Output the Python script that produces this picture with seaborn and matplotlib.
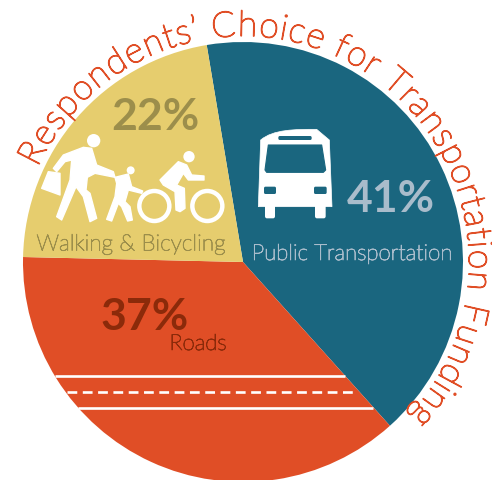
#!/usr/bin/env python3
import matplotlib
matplotlib.use('Agg')
import matplotlib.pyplot as plt
import matplotlib.patheffects as pe
from matplotlib.font_manager import FontProperties
from matplotlib.patches import Circle, Polygon, FancyBboxPatch, PathPatch
from matplotlib.path import Path
from matplotlib.textpath import text_to_path
import numpy as np
import seaborn as sns

sns.set_theme(style='white')
plt.rcParams['font.family'] = ['Lato', 'DejaVu Sans']

# data
categories = ['Public Transportation', 'Roads', 'Walking & Bicycling']
shares = [41, 37, 22]
colores = sns.color_palette(['#1A667F', '#E04E26', '#E6CD6E'])
title = 'Respondents\u2019 Choice for Transportation Funding'

W, H = 492, 480
CX, CY, R = 243, 262, 220


def Y(py):
    return H - py


def z1(pts):
    # coordenadas do zoom da zona amarela
    return [(x / 3, Y(90 + y / 3)) for x, y in pts]


def z2(pts):
    # coordenadas do zoom do autocarro
    return [(240 + x / 3, Y(110 + y / 3)) for x, y in pts]


def rotulo(x, y, s, size, cor):
    # fonte fina engrossada com um traco
    ax.text(x, Y(y), s, fontproperties=FontProperties(family='Lato', weight='light', size=size),
            color=cor, ha='center', va='center_baseline',
            path_effects=[pe.withStroke(linewidth=0.55, foreground=cor)])


fig = plt.figure(figsize=(W / 100, H / 100), dpi=100)
ax = fig.add_axes([0, 0, 1, 1])
ax.pie(shares, colors=colores, startangle=99.5, counterclock=False,
       center=(CX, Y(CY)), radius=R, wedgeprops={'linewidth': 0})
ax.set_xlim(0, W)
ax.set_ylim(0, H)
ax.set_aspect('equal')
ax.axis('off')

# titulo em arco
prop = FontProperties(family='Lato', weight='light', size=25.5)
def largura(s):
    return text_to_path.get_text_width_height_descent(s, prop, False)[0]

total = largura(title)
ini, fim = -65.5, 133.0
raio_txt = R + 6
for i, ch in enumerate(title):
    if ch == ' ':
        continue
    meio = largura(title[:i]) + largura(ch) / 2
    th = ini + (fim - ini) * meio / total
    rad = np.radians(th)
    ax.text(CX + raio_txt * np.sin(rad), Y(CY) + raio_txt * np.cos(rad), ch,
            rotation=-th, rotation_mode='anchor', ha='center', va='baseline',
            fontproperties=prop, color='#E04E26',
            path_effects=[pe.withStroke(linewidth=1.0, foreground='#E04E26')])

# textos das fatias
ax.text(391, Y(195), '41%', fontsize=32, fontweight='bold', color='#A9BCCB', ha='center', va='center_baseline')
rotulo(352, 252, categories[0], 16, '#A9BCCB')
ax.text(144.5, Y(313), '37%', fontsize=32, fontweight='bold', color='#8B2A0A', ha='center', va='center_baseline')
rotulo(198, 342, categories[1], 16, '#8B2A0A')
ax.text(155, Y(113), '22%', fontsize=32, fontweight='bold', color='#9C8E4B', ha='center', va='center_baseline')
rotulo(131, 242, categories[2], 16.3, '#9C8E4B')

# estrada
ax.plot([55, 345], [Y(376), Y(376)], color='white', lw=1.9, solid_capstyle='butt')
ax.plot([67, 353], [Y(392), Y(392)], color='white', lw=1.9, dashes=(3.7, 2.1))
ax.plot([78, 373], [Y(408), Y(408)], color='white', lw=1.9, solid_capstyle='butt')

# pessoas
branco = {'facecolor': 'white', 'edgecolor': 'white', 'linewidth': 1.0, 'joinstyle': 'round'}
adulto = [(190, 195), (250, 172), (275, 175), (290, 225), (340, 245), (345, 262), (285, 250),
          (262, 262), (258, 300), (270, 310), (290, 385), (270, 395), (250, 320), (228, 290),
          (185, 390), (170, 380), (210, 270), (215, 210), (195, 215), (170, 245), (160, 235)]
saco = [(145, 245), (180, 250), (180, 315), (125, 295)]
crianca = [(345, 262), (385, 252), (395, 290), (428, 303), (425, 310), (385, 300), (375, 335),
           (390, 350), (397, 390), (383, 393), (365, 350), (355, 340), (335, 393), (320, 388),
           (345, 320), (350, 280)]
ciclista = [(535, 215), (560, 225), (575, 255), (612, 258), (612, 270), (565, 270), (550, 250),
            (530, 285), (553, 295), (555, 355), (540, 365), (528, 360), (525, 305), (490, 285),
            (480, 270)]
for pts in [adulto, saco, crianca, ciclista]:
    ax.add_patch(Polygon(z1(pts), closed=True, **branco))
for (x, y, r) in [(281, 152, 20), (392, 241, 12), (567, 200, 17)]:
    ax.add_patch(Circle(z1([(x, y)])[0], r / 3, color='white', lw=0))
for x in [463, 622]:
    ax.add_patch(Circle(z1([(x, 348)])[0], 15, facecolor='none', edgecolor='white', lw=3.2))

# autocarro
corpo = z2([(62, 90), (100, 58), (165, 58), (230, 58), (268, 90), (276, 290), (55, 290), (62, 90)])
ax.add_patch(PathPatch(Path(corpo, [Path.MOVETO, Path.CURVE4, Path.CURVE4, Path.CURVE4,
                                    Path.LINETO, Path.LINETO, Path.LINETO, Path.CLOSEPOLY]),
                       facecolor='white', edgecolor='white', lw=0.5))
for x0, x1 in [(75, 105), (225, 257)]:
    a, b = z2([(x0, 325), (x1, 285)])
    ax.add_patch(FancyBboxPatch((a[0] + 2, a[1] + 2), b[0] - a[0] - 4, b[1] - a[1] - 2,
                                boxstyle='round,pad=2', facecolor='white', lw=0))
teal = '#1A667F'
ax.add_patch(Polygon(z2([(85, 105), (245, 105), (257, 180), (250, 187), (80, 187), (75, 180)]),
                     closed=True, facecolor=teal, edgecolor=teal, lw=0.8, joinstyle='round'))
for x0, y0, x1, y1 in [(115, 78, 215, 90), (72, 230, 108, 252), (222, 230, 260, 252)]:
    a, b = z2([(x0, y1), (x1, y0)])
    ax.add_patch(FancyBboxPatch((a[0] + 1.5, a[1] + 1.5), b[0] - a[0] - 3, b[1] - a[1] - 3,
                                boxstyle='round,pad=1.5', facecolor=teal, lw=0))

fig.savefig('out.png', dpi=100)
